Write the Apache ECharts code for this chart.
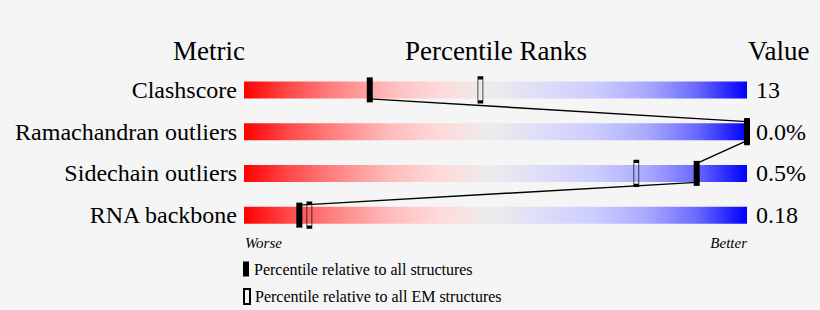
<!DOCTYPE html>
<html><head><meta charset="utf-8">
<script src="https://cdn.jsdelivr.net/npm/echarts@6/dist/echarts.min.js"></script>
<style>html,body{margin:0;padding:0;background:#f5f5f5}#c{width:820px;height:310px}</style>
</head><body><div id="c"></div>
<script>
const metrics = ['Clashscore', 'Ramachandran outliers', 'Sidechain outliers', 'RNA backbone'];
const valueLabels = ['13', '0.0%', '0.5%', '0.18'];
const pctAll = [25, 100, 90, 11];
const pctEM = [47, 100, 78, 13];
const fullScale = [100, 100, 100, 100];
const headers = ['Metric', 'Percentile Ranks', 'Value'];
const scaleEnds = ['Worse', 'Better'];
const legendNames = ['Percentile relative to all structures', 'Percentile relative to all EM structures'];

const FONT = '"Liberation Serif", "DejaVu Serif", serif';
const chart = echarts.init(document.getElementById('c'), null, {renderer: 'svg'});
const grad = {type: 'linear', x: 0, y: 0, x2: 1, y2: 0, colorStops: [
  {offset: 0, color: '#ff0000'}, {offset: 0.09, color: '#ff4a4a'}, {offset: 0.19, color: '#ff8888'},
  {offset: 0.29, color: '#ffbbbb'}, {offset: 0.39, color: '#ffdada'}, {offset: 0.49, color: '#ececec'},
  {offset: 0.60, color: '#dcdcfa'}, {offset: 0.70, color: '#ccccff'}, {offset: 0.80, color: '#aaaaff'},
  {offset: 0.90, color: '#6a6aff'}, {offset: 0.96, color: '#2a2aff'}, {offset: 1, color: '#0000ff'}]};

const legendBase = {orient: 'vertical', left: 243, padding: 0, itemWidth: 6, itemHeight: 15, icon: 'rect', selectedMode: false,
  textStyle: {fontFamily: FONT, fontSize: 16, color: '#000'}};

chart.setOption({
  backgroundColor: '#f5f5f5',
  animation: false,
  grid: {left: 244, right: 73, top: 69, height: 167},
  xAxis: {type: 'value', min: 0, max: 100, show: false},
  yAxis: [
    {type: 'category', data: metrics, inverse: true, axisLine: {show: false}, axisTick: {show: false},
     axisLabel: {fontFamily: FONT, fontSize: 24, color: '#000', margin: 7}},
    {type: 'category', data: valueLabels, inverse: true, position: 'right', axisLine: {show: false}, axisTick: {show: false},
     axisLabel: {fontFamily: FONT, fontSize: 24, color: '#000', margin: 9}}
  ],
  legend: [
    Object.assign({}, legendBase, {data: [legendNames[0]], top: 261}),
    Object.assign({}, legendBase, {data: [legendNames[1]], top: 288})
  ],
  graphic: [
    {type: 'text', x: 245, y: 51, style: {text: headers[0], font: '27px ' + FONT, fill: '#000', textAlign: 'right', textVerticalAlign: 'middle'}},
    {type: 'text', x: 496, y: 51, style: {text: headers[1], font: '27px ' + FONT, fill: '#000', textAlign: 'center', textVerticalAlign: 'middle'}},
    {type: 'text', x: 748, y: 51, style: {text: headers[2], font: '27px ' + FONT, fill: '#000', textAlign: 'left', textVerticalAlign: 'middle'}},
    {type: 'text', x: 245, y: 243, style: {text: scaleEnds[0], font: 'italic 15px ' + FONT, fill: '#000', textAlign: 'left', textVerticalAlign: 'middle'}},
    {type: 'text', x: 747, y: 243, style: {text: scaleEnds[1], font: 'italic 15px ' + FONT, fill: '#000', textAlign: 'right', textVerticalAlign: 'middle'}}
  ],
  series: [
    {type: 'bar', data: fullScale, barWidth: 17, itemStyle: {color: grad}, silent: true, z: 1},
    {type: 'custom', z: 2, silent: true, data: pctAll.map((v, i) => [v, i]),
     renderItem: function (params, api) {
       const i = params.dataIndex;
       if (i === 0) return null;
       const p0 = api.coord([pctAll[i - 1], i - 1]);
       const p1 = api.coord([pctAll[i], i]);
       return {type: 'line', shape: {x1: p0[0], y1: p0[1] + 9, x2: p1[0], y2: p1[1] - 10},
               style: {stroke: '#000', lineWidth: 1.5}};
     }},
    {type: 'scatter', name: legendNames[1], z: 3, data: pctEM.map((v, i) => [v, i]), symbol: 'rect', symbolSize: [5, 24],
     itemStyle: {color: 'rgba(0,0,0,0)', borderColor: '#000', borderWidth: 1.5, opacity: 1}, silent: true},
    {type: 'scatter', name: legendNames[0], z: 4, data: pctAll.map((v, i) => [v, i]), symbol: 'rect', symbolSize: [6, 25],
     itemStyle: {color: '#000', opacity: 1}, silent: true}
  ]
});
</script></body></html>
